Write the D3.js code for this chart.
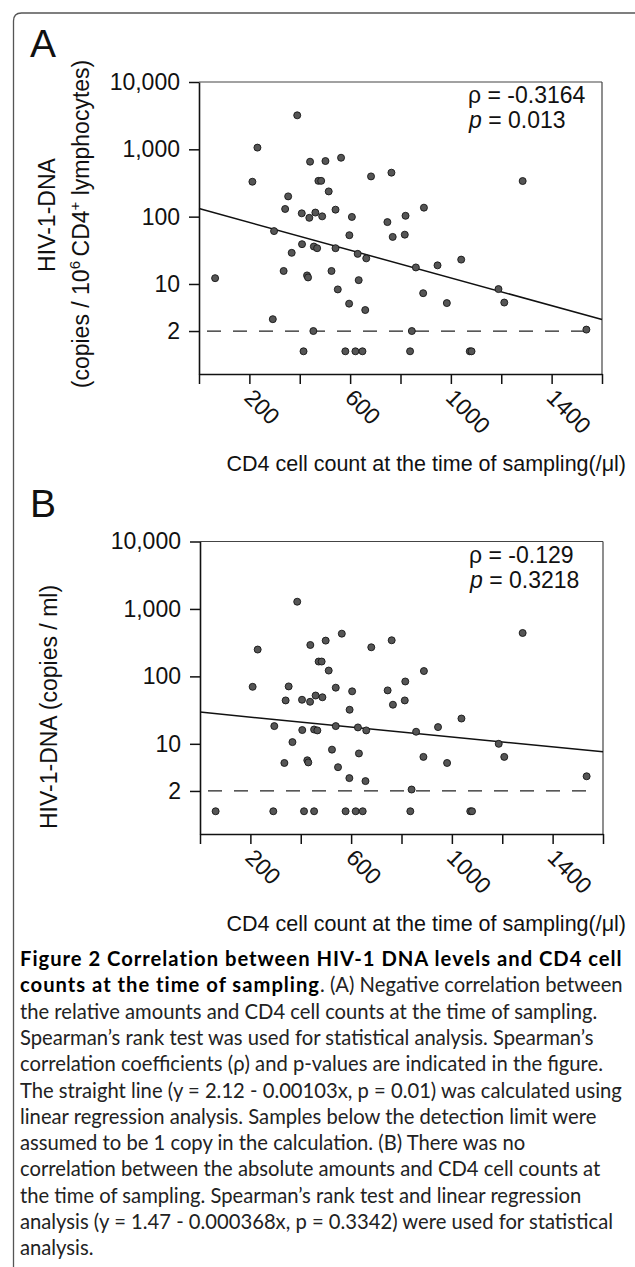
<!DOCTYPE html>
<html lang="en">
<head>
  <meta charset="UTF-8" />
  <title>HIV-1 DNA vs CD4 count</title>
  <script src="https://d3js.org/d3.v7.min.js"></script>
  <style>
    body { margin: 0; background: #fff; }
    svg text { font-family: "Liberation Sans", Arial, Helvetica, sans-serif; fill: #111; }
    .caption text { font-family: Lato, "Noto Sans", sans-serif; fill: #222; }
  </style>
</head>
<body>
  <div id="chart"></div>

  <script>
    // panel A: relative amounts (copies / 10^6 CD4+ lymphocytes), 1 = below detection limit
    const cd4A = [390, 232, 212, 441, 502, 564, 474, 485, 515, 683, 764, 1285, 354, 342, 408, 438, 462, 489, 542, 607,
                  893, 820, 748, 769, 817, 597, 298, 409, 456, 469, 542, 368, 630, 664, 861, 947, 1041, 64, 336, 429,
                  433, 526, 634, 551, 890, 1189, 596, 660, 984, 1212, 293, 454, 845, 1538,
                  415, 581, 621, 649, 838, 1075, 1082];
    const dnaA = [3200, 1060, 330, 655, 670, 750, 340, 340, 237, 396, 450, 338, 200, 130, 112, 96, 115, 101, 127, 99,
                  136, 103, 83, 50, 54, 53, 61, 39, 36, 34, 34, 29, 28, 24, 17.6, 18.9, 23, 12.2, 15.6, 13.4,
                  12.5, 15.6, 11.4, 8.3, 7.3, 8.4, 5.1, 4.1, 5.2, 5.3, 3.0, 2.0, 2.0, 2.1,
                  1, 1, 1, 1, 1, 1, 1];

    // panel B: absolute amounts (copies / ml)
    const cd4B = [386, 229, 209, 438, 499, 563, 471, 483, 511, 680, 761, 1281, 352, 340, 405, 437, 459, 486, 539, 604,
                  889, 815, 745, 766, 813, 594, 295, 406, 453, 466, 539, 367, 627, 660, 858, 945, 1038, 335, 426, 430,
                  524, 631, 548, 887, 1186, 593, 657, 981, 1208, 840, 1535,
                  62, 291, 413, 453, 578, 618, 646, 835, 1073, 1080];
    const dnaB = [1280, 250, 70, 292, 339, 430, 166, 166, 122, 270, 343, 440, 71, 44, 45, 42, 52, 49, 68, 60,
                  120, 84, 62, 38, 44, 32, 18.3, 16, 16.3, 15.8, 18.3, 10.6, 17.5, 15.8, 15.1, 17.7, 23.7, 5.2, 5.7, 5.3,
                  8.2, 7.2, 4.5, 6.4, 10, 3.1, 2.8, 5.2, 6.4, 2.1, 3.3,
                  1, 1, 1, 1, 1, 1, 1, 1, 1, 1];

    // regression lines from the caption (log10 y = a + b x)
    const regA = [2.12, -0.00103];
    const regB = [1.47, -0.000368];
    const statsA = ["-0.3164", "0.013"];
    const statsB = ["-0.129", "0.3218"];

    const yTicks = [2, 10, 100, 1000, 10000];
    const yTickLabels = ["2", "10", "100", "1,000", "10,000"];
    const xTicks = [0, 200, 400, 600, 800, 1000, 1200, 1400, 1600];
    const xTickLabels = ["", "200", "", "600", "", "1000", "", "1400", ""];
    const detectionLimit = 2;

    const captionLines = [
      [["Figure 2 Correlation between HIV-1 DNA levels and CD4 cell", true]],
      [["counts at the time of sampling", true], [". (A) Negative correlation between", false]],
      [["the relative amounts and CD4 cell counts at the time of sampling.", false]],
      [["Spearman\u2019s rank test was used for statistical analysis. Spearman\u2019s", false]],
      [["correlation coefficients (\u03c1) and p-values are indicated in the figure.", false]],
      [["The straight line (y = 2.12 - 0.00103x, p = 0.01) was calculated using", false]],
      [["linear regression analysis. Samples below the detection limit were", false]],
      [["assumed to be 1 copy in the calculation. (B) There was no", false]],
      [["correlation between the absolute amounts and CD4 cell counts at", false]],
      [["the time of sampling. Spearman\u2019s rank test and linear regression", false]],
      [["analysis (y = 1.47 - 0.000368x, p = 0.3342) were used for statistical", false]],
      [["analysis.", false]]
    ];

    const W = 635, H = 1267;
    const svg = d3.select("#chart").append("svg").attr("width", W).attr("height", H);

    // outer frame (rounded top-left corner)
    svg.append("path")
      .attr("d", "M13.5,1267 V21 Q13.5,13 21.5,13 H635")
      .attr("fill", "none").attr("stroke", "#555").attr("stroke-width", 1.3);

    function drawPanel(opt) {
      const { letter, left, right, top, bottom, cd4, dna, reg, stats } = opt;
      const x = d3.scaleLinear().domain([0, 1600]).range([left, right]);
      const y = d3.scaleLog().domain([0.46, 10000]).range([bottom, top]);
      const g = svg.append("g");

      // box top / right
      g.append("line").attr("x1", left).attr("x2", right).attr("y1", top).attr("y2", top)
        .attr("stroke", "#444").attr("stroke-width", 1.2);
      g.append("line").attr("x1", right).attr("x2", right).attr("y1", top).attr("y2", bottom)
        .attr("stroke", "#444").attr("stroke-width", 1.2);

      const yAxis = g.append("g").attr("transform", `translate(${left},0)`)
        .call(d3.axisLeft(y).tickValues(yTicks).tickFormat((d, i) => yTickLabels[i])
          .tickSize(10).tickSizeOuter(0).tickPadding(9));
      const xAxis = g.append("g").attr("transform", `translate(0,${bottom})`)
        .call(d3.axisBottom(x).tickValues(xTicks).tickFormat((d, i) => xTickLabels[i])
          .tickSize(10).tickSizeOuter(0));
      [yAxis, xAxis].forEach(a => {
        a.select(".domain").attr("stroke", "#111").attr("stroke-width", 1.6);
        a.selectAll(".tick line").attr("stroke", "#111").attr("stroke-width", 1.5);
        a.selectAll("text").attr("font-size", 23).attr("font-family", null).attr("fill", "#111");
      });
      xAxis.selectAll(".tick text")
        .attr("y", null).attr("dy", null).attr("text-anchor", "start")
        .attr("transform", "translate(-7,25) rotate(45)");

      // detection limit
      g.append("line")
        .attr("x1", x(0)).attr("x2", x(1570))
        .attr("y1", y(detectionLimit)).attr("y2", y(detectionLimit))
        .attr("stroke", "#222").attr("stroke-width", 1.3)
        .attr("stroke-dasharray", "14,12").attr("stroke-dashoffset", -8);

      // regression line
      const line = d3.line().x(d => x(d)).y(d => y(Math.pow(10, reg[0] + reg[1] * d)));
      g.append("path").datum([0, 1600]).attr("d", line)
        .attr("fill", "none").attr("stroke", "#111").attr("stroke-width", 1.5);

      g.append("g").selectAll("circle")
        .data(cd4.map((c, i) => [c, dna[i]]))
        .enter().append("circle")
        .attr("cx", d => x(d[0])).attr("cy", d => y(d[1]))
        .attr("r", 3.5)
        .attr("fill", "#555").attr("stroke", "#151515").attr("stroke-width", 0.9);

      // statistics
      const st = g.append("text").attr("x", left + 269).attr("y", top + 21).attr("font-size", 23);
      st.append("tspan").text(`\u03c1 = ${stats[0]}`);
      const st2 = g.append("text").attr("x", left + 270).attr("y", top + 46).attr("font-size", 23);
      st2.append("tspan").attr("font-style", "italic").text("p");
      st2.append("tspan").text(` = ${stats[1]}`);

      // panel letter
      g.append("text").attr("x", 30).attr("y", top - 25).attr("font-size", 39).text(letter);

      // x axis title
      g.append("text").attr("x", 626).attr("y", bottom + 97).attr("text-anchor", "end")
        .attr("font-size", 21.5).text("CD4 cell count at the time of sampling(/\u03bcl)");
      return g;
    }

    const gA = drawPanel({ letter: "A", left: 199, right: 602, top: 82, bottom: 374,
                           cd4: cd4A, dna: dnaA, reg: regA, stats: statsA });
    const gB = drawPanel({ letter: "B", left: 200, right: 603, top: 541.5, bottom: 834,
                           cd4: cd4B, dna: dnaB, reg: regB, stats: statsB });

    // y axis titles
    gA.append("text").attr("transform", "translate(55,215) rotate(-90)")
      .attr("text-anchor", "middle").attr("font-size", 23).text("HIV-1-DNA");
    const t2 = gA.append("text").attr("transform", "translate(89,224) rotate(-90)")
      .attr("text-anchor", "middle").attr("font-size", 23);
    t2.append("tspan").text("(copies / 10");
    t2.append("tspan").attr("font-size", 15).attr("dy", -9).text("6");
    t2.append("tspan").attr("dy", 9).text("\u2009CD4");
    t2.append("tspan").attr("font-size", 15).attr("dy", -9).text("+");
    t2.append("tspan").attr("dy", 9).text(" lymphocytes)");
    gB.append("text").attr("transform", "translate(57,707) rotate(-90)")
      .attr("text-anchor", "middle").attr("font-size", 23).text("HIV-1-DNA (copies / ml)");

    // caption
    const cap = svg.append("g").attr("class", "caption");
    const capLines = cap.selectAll("text").data(captionLines).enter().append("text")
      .attr("x", 20).attr("y", (d, i) => 966 + i * 26.3).attr("font-size", 20);
    capLines.each(function (parts) {
      const t = d3.select(this);
      parts.forEach(p => t.append("tspan").attr("class", p[1] ? "b" : null)
        .attr("font-weight", p[1] ? "bold" : null)
        .attr("fill", p[1] ? "#000" : null).text(p[0]));
    });
    // fit the caption size to the reference line width, then widen the bold heading
    const ref = capLines.filter((d, i) => i === 5).node().getComputedTextLength();
    capLines.attr("font-size", 20 * 602 / ref);
    const head = capLines.filter((d, i) => i === 0).node();
    const ls = (602 - head.getComputedTextLength()) / (captionLines[0][0][0].length - 1);
    cap.selectAll("tspan.b").attr("letter-spacing", ls);
  </script>
</body>
</html>
